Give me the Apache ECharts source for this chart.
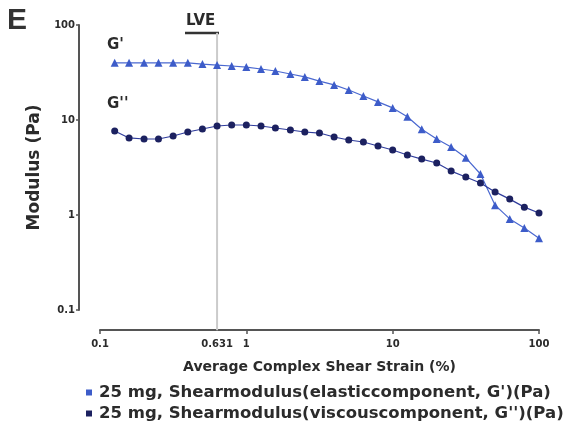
<!DOCTYPE html>
<html>
<head>
<meta charset="utf-8">
<script src="https://cdn.jsdelivr.net/npm/echarts@6/dist/echarts.min.js"></script>
<style>
    html, body { margin: 0; padding: 0; background: #fff; }
    #chart { width: 584px; height: 431px; }
</style>
</head>
<body>
<div id="chart"></div>
<script>
// strain sweep (%), 30 points
var strain = [0.126, 0.158, 0.2, 0.251, 0.316, 0.398, 0.501, 0.631, 0.794, 1,
    1.26, 1.58, 2, 2.51, 3.16, 3.98, 5.01, 6.31, 7.94, 10,
    12.6, 15.8, 20, 25.1, 31.6, 39.8, 50.1, 63.1, 79.4, 100]
// G' elastic (Pa)
var gPrime = [40, 40, 40, 40, 40, 40, 38.8, 37.9, 37, 36.1,
    34.4, 32.8, 30.5, 28.4, 25.7, 23.4, 20.7, 17.9, 15.5, 13.4,
    10.8, 8.0, 6.3, 5.2, 4.0, 2.7, 1.27, 0.91, 0.73, 0.57]
// G'' viscous (Pa)
var gDoublePrime = [7.66, 6.47, 6.31, 6.31, 6.79, 7.48, 8.04, 8.65, 8.86, 8.86,
    8.65, 8.24, 7.85, 7.48, 7.29, 6.62, 6.16, 5.87, 5.32, 4.83,
    4.28, 3.88, 3.53, 2.9, 2.51, 2.17, 1.75, 1.47, 1.21, 1.05]
var seriesNames = ['25 mg, Shearmodulus(elasticcomponent, G\')(Pa)', '25 mg, Shearmodulus(viscouscomponent, G\'\')(Pa)']
// linear viscoelastic region limit
var lveStrain = 0.631
var xRange = [0.1, 100]
var yRange = [0.1, 100]

var font = 'DejaVu Sans, sans-serif'
var axisColor = '#555'
var textColor = '#2b2b2b'
var lveColor = '#cbcbcb'

var myChart = echarts.init(document.getElementById('chart'))

function pairs (ys) {
    return strain.map(function (x, i) { return [x, ys[i]] })
}
function tickText (v) {
    return String(+v.toPrecision(3))
}

var option = {
    backgroundColor: '#fff',
    textStyle: { fontFamily: font },
    grid: [
        // plot area
        { left: 100, right: 45, top: 25, bottom: 121 },
        // LVE marker line runs from its label down to the x axis line
        { left: 100, right: 45, top: 33, bottom: 101 }
    ],
    legend: {
        data: seriesNames,
        orient: 'vertical',
        left: 86,
        top: 384,
        padding: 0,
        itemWidth: 6,
        itemHeight: 6,
        itemGap: 4,
        icon: 'rect',
        textStyle: {
            fontFamily: font,
            fontWeight: 'bold',
            fontSize: 16.5,
            color: textColor,
            padding: [0, 0, 0, 2]
        }
    },
    xAxis: [
        {
            type: 'log',
            logBase: 10,
            min: xRange[0],
            max: xRange[1],
            offset: 20,
            name: 'Average Complex Shear Strain (%)',
            nameLocation: 'middle',
            nameGap: 30,
            nameTextStyle: { fontWeight: 'bold', fontSize: 14, color: textColor },
            axisLine: { lineStyle: { color: axisColor, width: 2 } },
            axisTick: { show: true, length: 4, lineStyle: { color: axisColor, width: 1.5 } },
            minorTick: { show: false },
            splitLine: { show: false },
            axisLabel: {
                fontWeight: 'bold',
                fontSize: 10,
                color: textColor,
                margin: 9,
                formatter: tickText
            }
        },
        {
            gridIndex: 1,
            type: 'log',
            logBase: 10,
            min: xRange[0],
            max: xRange[1],
            show: false
        }
    ],
    yAxis: [
        {
            type: 'log',
            logBase: 10,
            min: yRange[0],
            max: yRange[1],
            offset: 21,
            name: 'Modulus (Pa)',
            nameLocation: 'middle',
            nameGap: 36,
            nameTextStyle: { fontWeight: 'bold', fontSize: 17, color: textColor },
            axisLine: { show: true, lineStyle: { color: axisColor, width: 2 } },
            axisTick: { show: true, length: 3, lineStyle: { color: axisColor, width: 1.5 } },
            splitLine: { show: false },
            axisLabel: {
                fontWeight: 'bold',
                fontSize: 10,
                color: textColor,
                margin: 4,
                formatter: tickText
            }
        },
        {
            gridIndex: 1,
            type: 'value',
            min: 0,
            max: 1,
            show: false
        }
    ],
    series: [
        {
            name: 'LVE',
            type: 'line',
            xAxisIndex: 1,
            yAxisIndex: 1,
            silent: true,
            symbol: 'circle',
            symbolSize: 1,
            showSymbol: true,
            z: 1,
            itemStyle: { color: lveColor },
            lineStyle: { color: lveColor, width: 2 },
            data: [
                {
                    value: [lveStrain, 0],
                    label: {
                        show: true,
                        position: 'bottom',
                        distance: 9,
                        formatter: String(lveStrain),
                        fontFamily: font,
                        fontWeight: 'bold',
                        fontSize: 10,
                        color: textColor
                    }
                },
                [lveStrain, 1]
            ]
        },
        {
            name: seriesNames[0],
            type: 'line',
            symbol: 'triangle',
            symbolSize: 8,
            z: 3,
            itemStyle: { color: '#3d5cc9' },
            lineStyle: { color: '#4a68d0', width: 1.2 },
            data: pairs(gPrime)
        },
        {
            name: seriesNames[1],
            type: 'line',
            symbol: 'circle',
            symbolSize: 7,
            z: 4,
            itemStyle: { color: '#1c2160' },
            lineStyle: { color: '#2f3c9c', width: 1.2 },
            data: pairs(gDoublePrime)
        }
    ],
    graphic: [
        { type: 'text', left: 7, top: 6, style: { text: 'E', font: 'bold 30px Liberation Sans, Arial, sans-serif', fill: '#333' } },
        { type: 'text', left: 107, top: 38, style: { text: 'G\'', font: 'bold 15px ' + font, fill: textColor } },
        { type: 'text', left: 107, top: 97, style: { text: 'G\'\'', font: 'bold 15px ' + font, fill: textColor } },
        { type: 'text', left: 186, top: 14, style: { text: 'LVE', font: 'bold 15px ' + font, fill: textColor } },
        { type: 'line', shape: { x1: 185, y1: 33, x2: 219, y2: 33 }, style: { stroke: '#333', lineWidth: 2.5 } }
    ]
}

myChart.setOption(option)
</script>
</body>
</html>
